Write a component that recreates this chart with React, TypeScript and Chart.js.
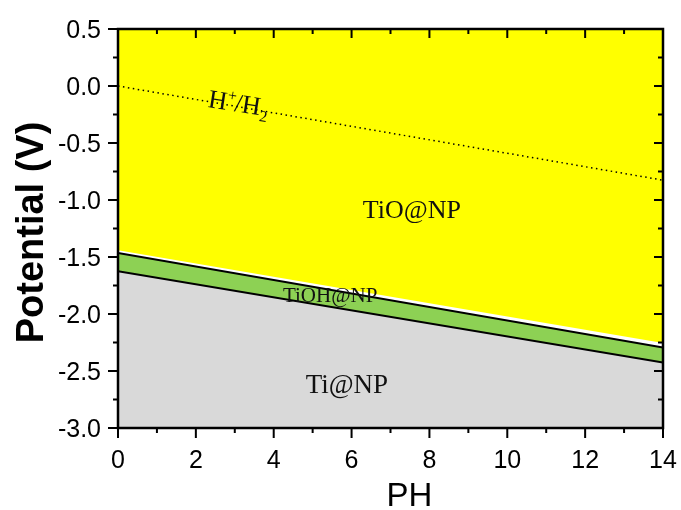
import React, { useEffect, useRef } from "react";
import { Chart, registerables } from "chart.js";

Chart.register(...registerables);

// ---- data ----
const pHPoints = [0, 14];
const tiOBoundary = [-1.44, -2.255]; // lower edge of yellow TiO@NP region
const tiOHUpper = [-1.465, -2.295]; // upper black line of TiOH@NP band
const tiOHLower = [-1.625, -2.425]; // lower black line (top of Ti@NP)
const hydrogenLine = [0.0, -0.826]; // H+/H2 dotted line

const xTickValues = [0, 2, 4, 6, 8, 10, 12, 14];
const xMinorTicks = [1, 3, 5, 7, 9, 11, 13];
const yTickValues = [0.5, 0.0, -0.5, -1.0, -1.5, -2.0, -2.5, -3.0];
const yMinorTicks = [0.25, -0.25, -0.75, -1.25, -1.75, -2.25, -2.75];

const regionLabels = ["TiO@NP", "TiOH@NP", "Ti@NP"];
const regionLabelX = [7.55, 5.45, 5.88];
const regionLabelY = [-1.096, -1.842, -2.632];
const regionLabelSize = [26, 21, 27];

const hLabelX = 2.29;
const hLabelY = -0.184;

const xTitle = "PH";
const yTitle = "Potential (V)";

const toPts = (ys: number[]) => pHPoints.map((x, i) => ({ x, y: ys[i] }));

const decorPlugin = {
  id: "decor",
  afterDraw(chart: any) {
    const { ctx, chartArea } = chart;
    const { left, right, top, bottom } = chartArea;
    const xs = chart.scales.x;
    const ys = chart.scales.y;
    ctx.save();

    // region labels
    ctx.fillStyle = "#111";
    ctx.textAlign = "center";
    ctx.textBaseline = "middle";
    regionLabels.forEach((t, i) => {
      ctx.font = `${regionLabelSize[i]}px "Liberation Serif", "DejaVu Serif", serif`;
      ctx.fillText(t, xs.getPixelForValue(regionLabelX[i]), ys.getPixelForValue(regionLabelY[i]));
    });

    // H+/H2 label, rotated along the dotted line
    const ang = Math.atan2(
      ys.getPixelForValue(hydrogenLine[1]) - ys.getPixelForValue(hydrogenLine[0]),
      xs.getPixelForValue(pHPoints[1]) - xs.getPixelForValue(pHPoints[0])
    ) * 0.9;
    ctx.save();
    ctx.translate(xs.getPixelForValue(hLabelX), ys.getPixelForValue(hLabelY));
    ctx.rotate(ang);
    ctx.textAlign = "left";
    ctx.textBaseline = "alphabetic";
    const big = '26px "Liberation Serif", "DejaVu Serif", serif';
    const small = '16px "Liberation Serif", "DejaVu Serif", serif';
    let cx = 0;
    ctx.font = big;
    ctx.fillText("H", cx, 0);
    cx += ctx.measureText("H").width;
    ctx.font = small;
    ctx.fillText("+", cx, -10);
    cx += ctx.measureText("+").width - 1;
    ctx.font = big;
    ctx.fillText("/H", cx, 0);
    cx += ctx.measureText("/H").width;
    ctx.font = small;
    ctx.fillText("2", cx, 6);
    ctx.restore();

    // frame
    ctx.strokeStyle = "#000";
    ctx.lineWidth = 2.5;
    ctx.strokeRect(left, top, right - left, bottom - top);

    // ticks
    ctx.lineWidth = 2;
    const major = 10;
    const minor = 5;
    const inMajor = 9;
    const inMinor = 5;
    ctx.beginPath();
    xTickValues.forEach((v) => {
      const px = xs.getPixelForValue(v);
      ctx.moveTo(px, bottom);
      ctx.lineTo(px, bottom + major);
      ctx.moveTo(px, top);
      ctx.lineTo(px, top + inMajor);
    });
    xMinorTicks.forEach((v) => {
      const px = xs.getPixelForValue(v);
      ctx.moveTo(px, bottom);
      ctx.lineTo(px, bottom + minor);
      ctx.moveTo(px, top);
      ctx.lineTo(px, top + inMinor);
    });
    yTickValues.forEach((v) => {
      const py = ys.getPixelForValue(v);
      ctx.moveTo(left, py);
      ctx.lineTo(left - major, py);
      ctx.moveTo(right, py);
      ctx.lineTo(right - inMajor, py);
    });
    yMinorTicks.forEach((v) => {
      const py = ys.getPixelForValue(v);
      ctx.moveTo(left, py);
      ctx.lineTo(left - minor, py);
      ctx.moveTo(right, py);
      ctx.lineTo(right - inMinor, py);
    });
    ctx.stroke();

    // tick labels
    ctx.fillStyle = "#000";
    ctx.font = '25px "Liberation Sans", Arial, sans-serif';
    ctx.textAlign = "center";
    ctx.textBaseline = "alphabetic";
    xTickValues.forEach((v) => {
      ctx.fillText(String(v), xs.getPixelForValue(v), bottom + 40);
    });
    ctx.textAlign = "right";
    yTickValues.forEach((v) => {
      ctx.fillText(v.toFixed(1), left - 17, ys.getPixelForValue(v) + 9);
    });

    // axis titles
    ctx.font = '33px "Liberation Sans", Arial, sans-serif';
    ctx.textAlign = "center";
    ctx.fillText(xTitle, (left + right) / 2 + 19, bottom + 78);

    ctx.save();
    ctx.translate(33, (top + bottom) / 2 + 4);
    ctx.rotate(-Math.PI / 2);
    ctx.font = 'bold 38px "Liberation Sans", Arial, sans-serif';
    ctx.textBaseline = "middle";
    ctx.fillText(yTitle, 0, 0);
    ctx.restore();

    ctx.restore();
  },
};

export default function App() {
  const ref = useRef<HTMLCanvasElement | null>(null);

  useEffect(() => {
    if (!ref.current) return;
    const chart = new Chart(ref.current, {
      type: "line",
      data: {
        datasets: [
          {
            data: toPts(hydrogenLine),
            borderColor: "#000",
            borderWidth: 1.5,
            borderDash: [1.5, 3.5],
            pointRadius: 0,
            fill: false,
          },
          {
            data: toPts(tiOBoundary),
            borderColor: "rgba(0,0,0,0)",
            borderWidth: 0,
            backgroundColor: "#ffff00",
            pointRadius: 0,
            fill: "end",
          },
          {
            data: toPts(tiOHUpper),
            borderColor: "#000",
            borderWidth: 2,
            backgroundColor: "#8dd154",
            pointRadius: 0,
            fill: "+1",
          },
          {
            data: toPts(tiOHLower),
            borderColor: "#000",
            borderWidth: 2,
            backgroundColor: "#d9d9d9",
            pointRadius: 0,
            fill: "start",
          },
        ],
      },
      options: {
        responsive: false,
        animation: false,
        events: [],
        layout: { padding: { left: 118, right: 18, top: 29, bottom: 82 } },
        plugins: {
          legend: { display: false },
          tooltip: { enabled: false },
          filler: { drawTime: "beforeDatasetsDraw" },
        } as any,
        scales: {
          x: { type: "linear", min: 0, max: 14, display: false },
          y: { type: "linear", min: -3, max: 0.5, display: false },
        },
      },
      plugins: [decorPlugin],
    });
    return () => chart.destroy();
  }, []);

  return (
    <div style={{ position: "absolute", left: 0, top: 0, width: 681, height: 510, background: "#fff" }}>
      <canvas ref={ref} width={681} height={510} style={{ display: "block" }} />
    </div>
  );
}
